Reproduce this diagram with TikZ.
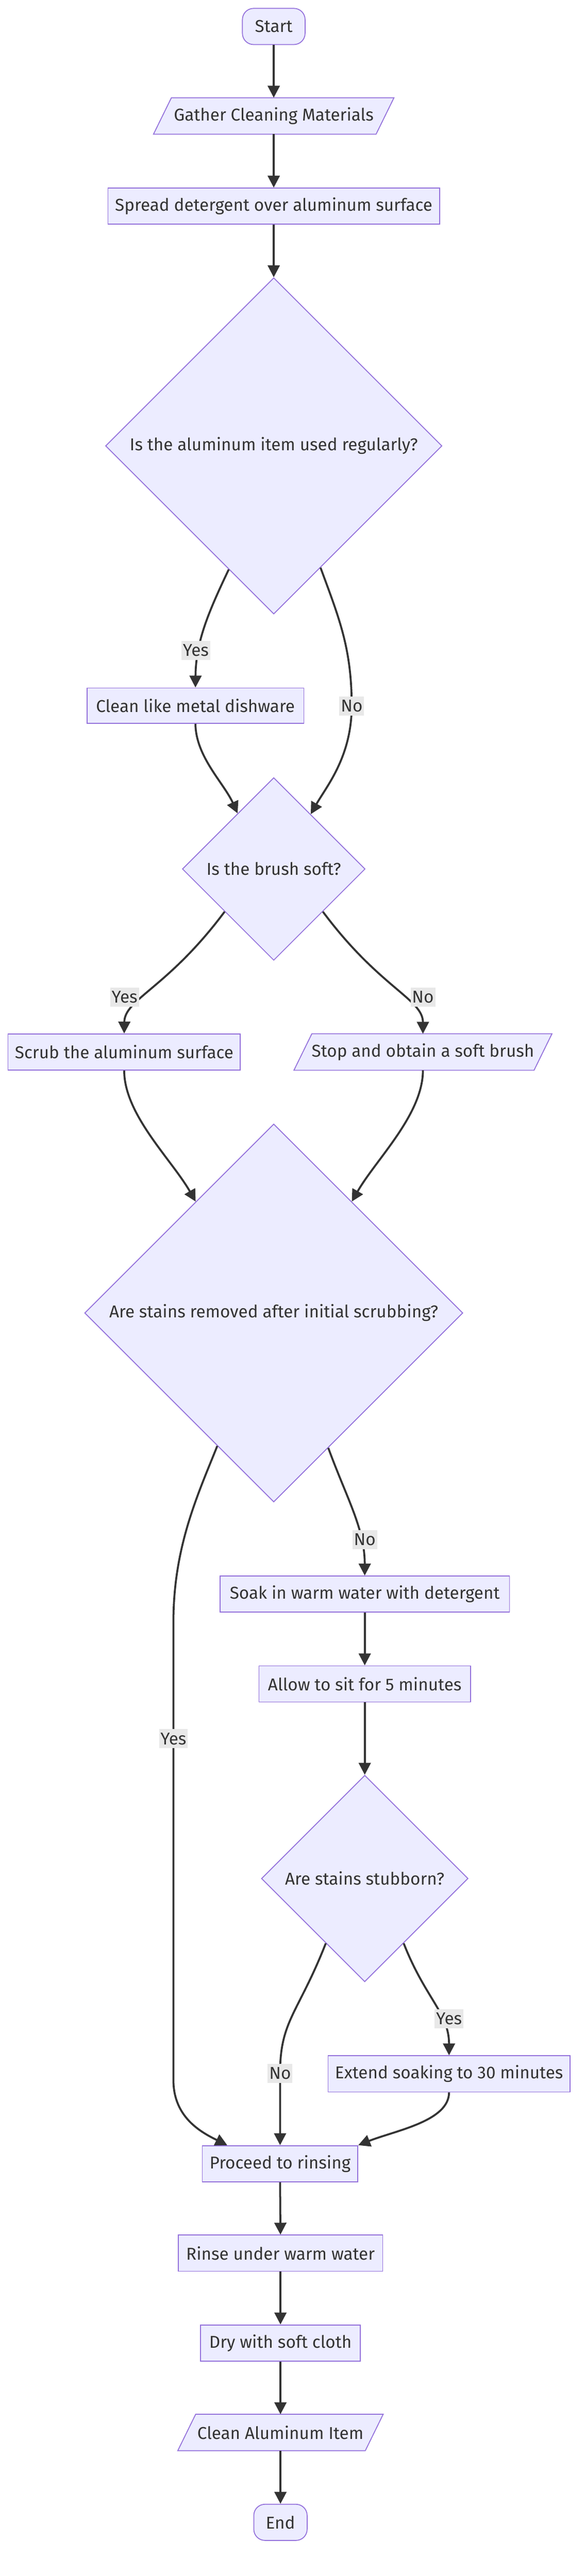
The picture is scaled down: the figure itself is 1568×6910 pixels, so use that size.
\documentclass[tikz,border=0pt]{standalone}
\usepackage{fontspec}
\setmainfont{Fira Sans}
\usepackage{tikz}
\usetikzlibrary{arrows.meta}
\usetikzlibrary{shapes.geometric}
\usetikzlibrary{backgrounds}
\definecolor{lavender}{HTML}{ECECFF}
\definecolor{violetline}{HTML}{9370DB}
\definecolor{edgegrey}{HTML}{333333}
\definecolor{darktext}{HTML}{333333}
\definecolor{lblgrey}{HTML}{E8E8E8}
\newcommand{\nodefont}{\fontsize{23pt}{28pt}\selectfont}
\tikzset{>={Triangle[length=16pt,width=16pt]}}
\tikzstyle{box} = [rectangle, draw=violetline, fill=lavender, line width=1.2pt,
    minimum height=48.5pt, inner sep=0pt, text=darktext, font=\nodefont]
\tikzstyle{term} = [box, rounded corners=15pt]
\tikzstyle{lean} = [rectangle, minimum height=48.5pt, inner sep=0pt,
    text=darktext, font=\nodefont]
\tikzstyle{leanpath} = [draw=violetline, fill=lavender, line width=1.2pt]
\tikzstyle{decision} = [diamond, aspect=1, draw=violetline, fill=lavender,
    line width=1.2pt, inner sep=0pt, text=darktext, font=\nodefont]
\tikzstyle{lbl} = [fill=lblgrey, inner sep=2pt, minimum height=25.5pt,
    text=darktext, font=\nodefont]
\tikzstyle{flow} = [->, draw=edgegrey, line width=2.6pt]

\begin{document}
\begin{tikzpicture}[x=0.5pt, y=-0.5pt]
\useasboundingbox (0,0) rectangle (1568,6910);
    %steps
    \node[term, minimum width=84pt] (start) at (734,71) {Start};
    \node[lean, minimum width=298pt] (gather) at (734,311) {Gather Cleaning Materials};
    \node[box, minimum width=444.5pt] (spread) at (734,553) {Spread detergent over aluminum surface};
    \node[decision, minimum width=451pt, minimum height=451pt] (d1) at (734,1196) {Is the aluminum item used regularly?};
    \node[box, minimum width=290.5pt, minimum height=47.5pt] (clean) at (524,1893) {Clean like metal dishware};
    \node[decision, minimum width=245pt, minimum height=245pt] (brush) at (734,2331) {Is the brush soft?};
    \node[box, minimum width=311.5pt] (scrub) at (333,2822) {Scrub the aluminum surface};
    \node[lean, minimum width=321.5pt] (stop) at (1134,2822) {Stop and obtain a soft brush};
    \node[decision, minimum width=507pt, minimum height=507pt] (d3) at (734,3522) {Are stains removed after initial scrubbing?};
    \node[box, minimum width=388pt] (soak) at (978,4276) {Soak in warm water with detergent};
    \node[box, minimum width=283.5pt] (allow) at (978,4517) {Allow to sit for 5 minutes};
    \node[decision, minimum width=277pt, minimum height=277pt] (stubborn) at (978,5039) {Are stains stubborn?};
    \node[box, minimum width=324.5pt] (extend) at (1204,5563) {Extend soaking to 30 minutes};
    \node[box, minimum width=208.5pt] (proceed) at (751,5804) {Proceed to rinsing};
    \node[box, minimum width=274pt] (rinse) at (752,6044) {Rinse under warm water};
    \node[box, minimum width=214.5pt] (dry) at (752,6285) {Dry with soft cloth};
    \node[lean, minimum width=251pt] (cleanitem) at (752,6525) {Clean Aluminum Item};
    \node[term, minimum width=71.5pt] (finish) at (752,6766) {End};
    %slanted boxes
    \begin{scope}[on background layer]
    \foreach \nm in {gather, stop, cleanitem}
        \draw[leanpath] ([xshift=12pt]\nm.north west) -- ([xshift=12pt]\nm.north east)
            -- ([xshift=-12pt]\nm.south east) -- ([xshift=-12pt]\nm.south west) -- cycle;
    \end{scope}
    %straight arrows
    \draw[flow] (start) -- (gather);
    \draw[flow] (gather) -- (spread);
    \draw[flow] (spread) -- (d1);
    \draw[flow] (soak) -- (allow);
    \draw[flow] (allow) -- (stubborn);
    \draw[flow] (proceed.south) -- (rinse.north);
    \draw[flow] (rinse) -- (dry);
    \draw[flow] (dry) -- (cleanitem);
    \draw[flow] (cleanitem) -- (finish);
    %curved arrows
    \draw[flow] (d1.250) .. controls (560,1640) and (525,1720) .. (clean.north);
    \draw[flow] (d1.291) .. controls (910,1660) and (943,1740) .. (943,1894)
        .. controls (943,2030) and (875,2110) .. (brush.56);
    \draw[flow] (clean.south) .. controls (525,2030) and (600,2100) .. (brush.123);
    \draw[flow] (brush.221) .. controls (450,2650) and (334,2680) .. (scrub.north);
    \draw[flow] (brush.319) .. controls (1018,2650) and (1134,2680) .. (stop.north);
    \draw[flow] (scrub.south) .. controls (333,2990) and (460,3110) .. (d3.125);
    \draw[flow] (stop.south) .. controls (1134,2990) and (1008,3110) .. (d3.55);
    \draw[flow] (d3.292) .. controls (930,4020) and (978,4100) .. (soak.north);
    \draw[flow] (d3.247) .. controls (530,4010) and (465,4150) .. (465,4350) -- (465,5580)
        .. controls (465,5680) and (540,5720) .. ([xshift=34pt]proceed.north west);
    \draw[flow] (stubborn.239) .. controls (800,5400) and (751,5420) .. (751,5560) -- (proceed.north);
    \draw[flow] (stubborn.301) .. controls (1140,5360) and (1204,5400) .. (extend.north);
    \draw[flow] (extend.south) .. controls (1204,5690) and (1060,5715) .. (proceed.north east);
    %labels
    \node[lbl] (yes1) at (525,1745) {Yes};
    \node[lbl] (no1) at (943,1894) {No};
    \node[lbl] (yes2) at (334,2675) {Yes};
    \node[lbl] (no2) at (1134,2675) {No};
    \node[lbl] (no3) at (978,4130) {No};
    \node[lbl] (yes3) at (465,4664) {Yes};
    \node[lbl] (yes4) at (1204,5415) {Yes};
    \node[lbl] (no4) at (751,5562) {No};
\end{tikzpicture}
\end{document}
